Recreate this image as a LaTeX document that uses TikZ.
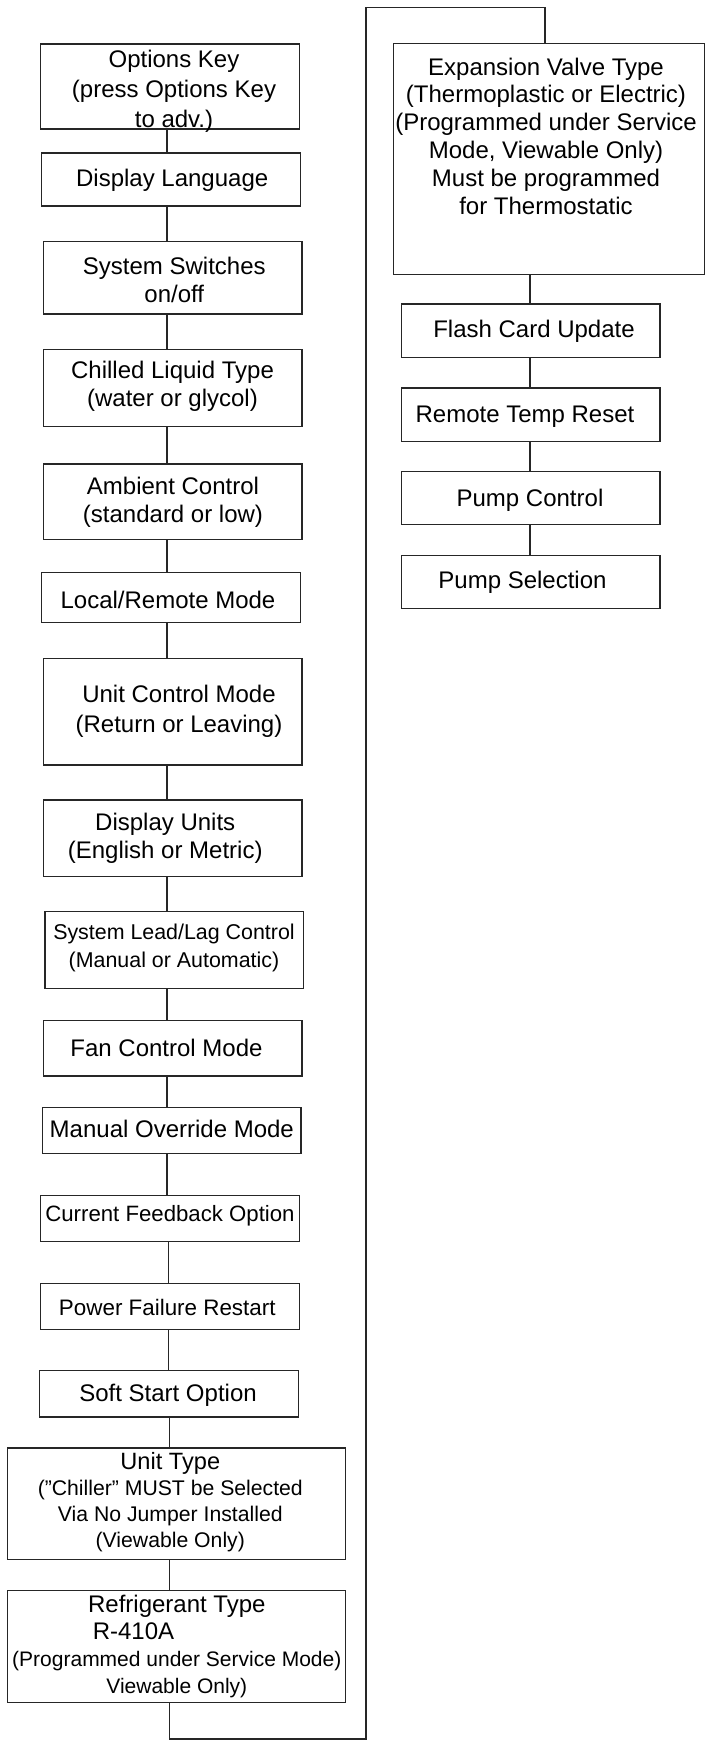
\documentclass[tikz,border=0pt]{standalone}
\usepackage{fontspec}
\setmainfont{Liberation Sans}
\begin{document}
\begin{tikzpicture}[x=0.5pt,y=-0.5pt,
  box/.style={draw=black!85, line width=0.6pt, rectangle, inner sep=0pt, outer sep=0pt},
  txt/.style={align=center, inner sep=0pt, font=\fontsize{12}{14}\selectfont},
  link/.style={draw=black!85, line width=0.6pt}]
\useasboundingbox (0,0) rectangle (710,1744);
% ---------- left column boxes ----------
\node[box, minimum width=129.3pt, minimum height=42.5pt] (ok) at (170,86.5) {};
\node[txt, font=\fontsize{12}{15}\selectfont] (okt) at (174,91.1) {Options Key\\(press Options Key\\to adv.)};
\node[box, minimum width=129.3pt, minimum height=26.5pt] (dl) at (171,179.5) {};
\node[txt] (dlt) at (172.2,180.6) {Display Language};
\node[box, minimum width=129.35pt, minimum height=36.35pt] (ss) at (172.65,277.65) {};
\node[txt] (sst) at (174.3,280.1) {System Switches\\on/off};
\node[box, minimum width=129.35pt, minimum height=38.3pt] (cl) at (172.65,388) {};
\node[txt] (clt) at (172.5,386.3) {Chilled Liquid Type\\(water or glycol)};
\node[box, minimum width=129.35pt, minimum height=37.85pt] (ac) at (172.65,501.85) {};
\node[txt] (act) at (173,502) {Ambient Control\\(standard or low)};
\node[box, minimum width=129.3pt, minimum height=24.8pt] (lr) at (171,597.5) {};
\node[txt] (lrt) at (168,599.5) {Local/Remote Mode};
\node[box, minimum width=129.35pt, minimum height=53.35pt] (uc) at (172.65,711.65) {};
\node[txt, font=\fontsize{12}{15}\selectfont] (uct) at (179,711.1) {Unit Control Mode\\(Return or Leaving)};
\node[box, minimum width=129.35pt, minimum height=38.35pt] (du) at (172.65,838.35) {};
\node[txt] (dut) at (165.2,838.4) {Display Units\\(English or Metric)};
\node[box, minimum width=129.35pt, minimum height=38.3pt] (ll) at (174.35,950) {};
\node[txt, font=\fontsize{10.7}{14}\selectfont] (llt) at (174,947.6) {System Lead/Lag Control\\(Manual or Automatic)};
\node[box, minimum width=129.35pt, minimum height=27.65pt] (fc) at (172.65,1048.35) {};
\node[txt] (fct) at (166.5,1047.8) {Fan Control Mode};
\node[box, minimum width=129.35pt, minimum height=22.9pt] (mo) at (171.65,1130.6) {};
\node[txt] (mot) at (171.8,1128.5) {Manual Override Mode};
\node[box, minimum width=129.5pt, minimum height=23pt] (cf) at (169.8,1218.3) {};
\node[txt, font=\fontsize{11.1}{14}\selectfont] (cft) at (170,1216.2) {Current Feedback Option};
\node[box, minimum width=129.5pt, minimum height=23pt] (pf) at (169.8,1306.7) {};
\node[txt, font=\fontsize{11.2}{14}\selectfont] (pft) at (167.3,1307.5) {Power Failure Restart};
\node[box, minimum width=129.5pt, minimum height=23.15pt] (so) at (168.8,1393.85) {};
\node[txt] (sot) at (168,1395.5) {Soft Start Option};
\node[box, minimum width=168.95pt, minimum height=55.85pt] (ut) at (176.15,1503.85) {};
\node[txt, font=\fontsize{10.6}{13}\selectfont] (utt) at (170.3,1502.5)
  {{\fontsize{11.8}{13}\selectfont Unit Type}\\(”Chiller” MUST be Selected\\Via No Jumper Installed\\(Viewable Only)};
\node[box, minimum width=168.95pt, minimum height=56.2pt] (rt) at (176.15,1646.5) {};
\node[txt, font=\fontsize{10.5}{13.5}\selectfont] (rtt) at (176.8,1646)
  {{\fontsize{12}{13.5}\selectfont Refrigerant Type}\\{\fontsize{12}{13.5}\selectfont R-410A}\rule{43.3pt}{0pt}\\(Programmed under Service Mode)\\Viewable Only)};
% ---------- right column boxes ----------
\node[box, minimum width=155.5pt, minimum height=115.5pt] (ev) at (548.8,158.8) {};
\node[txt, font=\fontsize{12}{13.9}\selectfont] (evt) at (546,136)
  {Expansion Valve Type\\(Thermoplastic or Electric)\\(Programmed under Service\\Mode, Viewable Only)\\Must be programmed\\for Thermostatic};
\node[box, minimum width=129.35pt, minimum height=26.65pt] (fl) at (530.65,330.65) {};
\node[txt] (flt) at (534,331.1) {Flash Card Update};
\node[box, minimum width=129.35pt, minimum height=26.65pt] (rr) at (530.65,414.65) {};
\node[txt] (rrt) at (525,417) {Remote Temp Reset};
\node[box, minimum width=129.35pt, minimum height=26.5pt] (pc) at (530.65,498.2) {};
\node[txt] (pct) at (530,500) {Pump Control};
\node[box, minimum width=129.35pt, minimum height=26.5pt] (ps) at (530.65,581.8) {};
\node[txt] (pst) at (522.5,582) {Pump Selection};
% ---------- connector guides ----------
\coordinate (la) at (167,0);
\coordinate (lb) at (168.5,0);
\coordinate (lc) at (169.5,0);
\coordinate (rx) at (530,0);
\coordinate (b1) at (169.5,1739);
\coordinate (b2) at (366,1739);
\coordinate (t1) at (366,7.3);
\coordinate (t2) at (545,7.3);
% ---------- connectors ----------
\draw[link] (ok.south -| la) -- (dl.north -| la);
\draw[link] (dl.south -| la) -- (ss.north -| la);
\draw[link] (ss.south -| la) -- (cl.north -| la);
\draw[link] (cl.south -| la) -- (ac.north -| la);
\draw[link] (ac.south -| la) -- (lr.north -| la);
\draw[link] (lr.south -| la) -- (uc.north -| la);
\draw[link] (uc.south -| la) -- (du.north -| la);
\draw[link] (du.south -| la) -- (ll.north -| la);
\draw[link] (ll.south -| la) -- (fc.north -| la);
\draw[link] (fc.south -| la) -- (mo.north -| la);
\draw[link] (mo.south -| la) -- (cf.north -| la);
\draw[link] (cf.south -| lb) -- (pf.north -| lb);
\draw[link] (pf.south -| lb) -- (so.north -| lb);
\draw[link] (so.south -| lc) -- (ut.north -| lc);
\draw[link] (ut.south -| lc) -- (rt.north -| lc);
\draw[link] (rt.south -| b1) -- (b1) -- (b2) -- (t1) -- (t2) -- (t2 |- ev.north);
\draw[link] (ev.south -| rx) -- (fl.north -| rx);
\draw[link] (fl.south -| rx) -- (rr.north -| rx);
\draw[link] (rr.south -| rx) -- (pc.north -| rx);
\draw[link] (pc.south -| rx) -- (ps.north -| rx);
\end{tikzpicture}
\end{document}
